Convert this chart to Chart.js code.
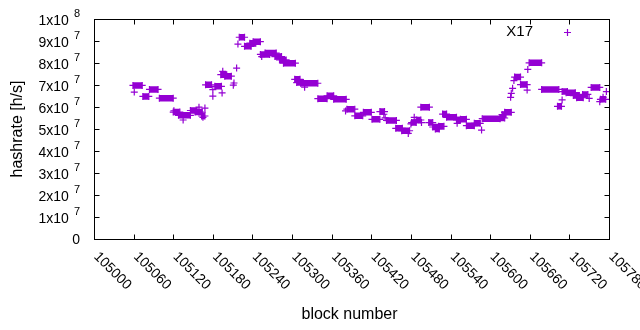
<!DOCTYPE html>
<html>
<head>
<meta charset="utf-8">
<script src="https://cdn.jsdelivr.net/npm/chart.js@4"></script>
<style>
  html, body { margin: 0; padding: 0; background: #fff; }
  #wrap { width: 640px; height: 330px; }
</style>
</head>
<body>
<div id="wrap"><canvas id="chart" width="640" height="330"></canvas></div>
<script>
// ─── Data ───
// runs of blocks with the same hashrate estimate
const runStart = [105059,105074,105084,105099,105120,105128,105146,105153,105163,105169,105183,105192,105198,
    105220,105228,105236,105241,105252,105259,105274,105281,105287,105304,105307,105313,105339,105353,105363,
    105383,105395,105408,105421,105433,105443,105457,105466,105481,105488,105495,105507,105513,105517,105522,
    105528,105534,105549,105555,105564,105576,105588,105615,105618,105622,105637,105646,105659,105678,105702,
    105709,105715,105726,105731,105740,105753,105767];
const runEnd = [105073,105083,105097,105120,105130,105146,105156,105164,105168,105178,105193,105201,105208,
    105228,105238,105245,105252,105266,105276,105284,105291,105305,105312,105317,105339,105353,105363,105382,
    105395,105407,105420,105433,105440,105458,105467,105478,105488,105495,105508,105513,105522,105523,105530,
    105534,105549,105555,105564,105576,105585,105615,105622,105624,105632,105646,105656,105678,105704,105708,
    105717,105729,105735,105741,105748,105766,105775];
const runRate = [69.8e6,64.8e6,68.0e6,64.0e6,57.7e6,56.2e6,58.4e6,57.7e6,55.9e6,70.1e6,69.4e6,74.7e6,74.0e6,
    91.7e6,87.6e6,89.0e6,89.7e6,83.9e6,84.5e6,82.9e6,81.4e6,79.9e6,72.6e6,71.1e6,70.8e6,63.8e6,65.1e6,63.5e6,
    59.0e6,56.0e6,57.6e6,54.4e6,57.9e6,53.9e6,50.3e6,49.2e6,52.9e6,54.1e6,59.9e6,52.9e6,50.9e6,50.0e6,51.2e6,
    56.8e6,55.3e6,54.1e6,54.4e6,51.5e6,52.6e6,54.7e6,55.0e6,56.6e6,57.6e6,73.6e6,70.2e6,80.1e6,68.0e6,60.3e6,
    67.0e6,66.5e6,65.2e6,64.2e6,65.7e6,68.9e6,63.5e6];

// isolated blocks
const singleBlock = [105061,105121,105135,105159,105168,105165,105180,105180,105194,105195,105216,105212,105211,
    105218,105254,105319,105381,105439,105441,105476,105480,105485,105496,105550,105587,105631,105632,105634,
    105636,105656,105657,105709,105750,105766,105771,105776];
const singleRate = [66.8e6,58.3e6,54.1e6,59.9e6,59.5e6,55.3e6,67.9e6,64.9e6,66.4e6,76.2e6,77.7e6,70.9e6,69.9e6,
    88.6e6,82.9e6,69.0e6,58.2e6,56.7e6,55.1e6,48.0e6,52.3e6,55.3e6,52.9e6,52.6e6,49.5e6,64.4e6,66.2e6,68.5e6,
    72.0e6,67.7e6,77.1e6,63.2e6,63.9e6,62.4e6,64.4e6,67.0e6];

const xTicks = [105000,105060,105120,105180,105240,105300,105360,105420,105480,105540,105600,105660,105720,105780];
const yTicks = [0,1e7,2e7,3e7,4e7,5e7,6e7,7e7,8e7,9e7,1e8];
const yTickMant = ['0','1','2','3','4','5','6','7','8','9','1'];
const yTickExp = ['','7','7','7','7','7','7','7','7','7','8'];

const seriesName = 'X17';
const PURPLE = '#9400d3';
const FONT = "'Liberation Sans', Arial, sans-serif";

// ─── Build datasets ───
const runPoints = [];
runStart.forEach((s, i) => {
    runPoints.push({ x: s, y: runRate[i] }, { x: runEnd[i], y: runRate[i] }, { x: runEnd[i], y: null });
});
const singlePoints = singleBlock.map((b, i) => ({ x: b, y: singleRate[i] }));

// ─── Gnuplot-ish frame, ticks and labels ───
const gnuFrame = {
    id: 'gnuFrame',
    afterDraw(chart) {
        const { ctx, chartArea: a, scales: { x, y } } = chart;
        const L = Math.round(a.left) + 0.5, R = Math.round(a.right) + 0.5;
        const T = Math.round(a.top) + 0.5, B = Math.round(a.bottom) + 0.5;
        ctx.save();
        ctx.strokeStyle = '#000';
        ctx.lineWidth = 1;
        ctx.strokeRect(L, T, R - L, B - T);

        // ticks (inward, mirrored)
        ctx.beginPath();
        yTicks.forEach(v => {
            const py = Math.round(y.getPixelForValue(v)) + 0.5;
            ctx.moveTo(L, py); ctx.lineTo(L + 5, py);
            ctx.moveTo(R, py); ctx.lineTo(R - 5, py);
        });
        xTicks.forEach(v => {
            const px = Math.round(x.getPixelForValue(v)) + 0.5;
            ctx.moveTo(px, B); ctx.lineTo(px, B - 5);
            ctx.moveTo(px, T); ctx.lineTo(px, T + 5);
        });
        ctx.stroke();

        ctx.fillStyle = '#000';
        // y tick labels: mantissa x10 ^ exponent
        yTicks.forEach((v, i) => {
            const py = y.getPixelForValue(v);
            const right = 80;
            if (!yTickExp[i]) {
                ctx.font = '14px ' + FONT;
                ctx.textAlign = 'right';
                ctx.textBaseline = 'middle';
                ctx.fillText(yTickMant[i], right, py + 1);
                return;
            }
            const base = yTickMant[i] + 'x10';
            ctx.font = '11px ' + FONT;
            const supW = ctx.measureText(yTickExp[i]).width;
            ctx.font = '14px ' + FONT;
            const baseW = ctx.measureText(base).width;
            const gap = 5;
            const x0 = right - supW - gap - baseW;
            ctx.textAlign = 'left';
            ctx.textBaseline = 'middle';
            ctx.fillText(base, x0, py + 2);
            ctx.font = '11px ' + FONT;
            ctx.fillText(yTickExp[i], x0 + baseW + gap, py - 5);
        });

        // x tick labels rotated by -45 (gnuplot sense)
        ctx.font = '14px ' + FONT;
        ctx.textAlign = 'left';
        ctx.textBaseline = 'middle';
        xTicks.forEach(v => {
            const px = x.getPixelForValue(v);
            ctx.save();
            ctx.translate(px + 2, B + 15);
            ctx.rotate(Math.PI / 4);
            ctx.fillText(String(v), 0, 0);
            ctx.restore();
        });

        // axis titles
        ctx.font = '16px ' + FONT;
        ctx.textAlign = 'center';
        ctx.textBaseline = 'middle';
        ctx.fillText('block number', (a.left + a.right) / 2 - 2, 315);
        ctx.save();
        ctx.translate(18, (a.top + a.bottom) / 2);
        ctx.rotate(-Math.PI / 2);
        ctx.fillText('hashrate [h/s]', 0, 0);
        ctx.restore();

        // key
        ctx.font = '15px ' + FONT;
        ctx.textAlign = 'right';
        ctx.fillText(seriesName, 533, 32);
        ctx.strokeStyle = PURPLE;
        ctx.lineWidth = 1.2;
        ctx.beginPath();
        ctx.moveTo(567.5 - 3.5, 32.5); ctx.lineTo(567.5 + 3.5, 32.5);
        ctx.moveTo(567.5, 32.5 - 3.5); ctx.lineTo(567.5, 32.5 + 3.5);
        ctx.stroke();
        ctx.restore();
    }
};

new Chart(document.getElementById('chart'), {
    type: 'scatter',
    data: {
        datasets: [
            {
                label: seriesName,
                data: runPoints,
                showLine: true,
                spanGaps: false,
                borderColor: PURPLE,
                backgroundColor: PURPLE,
                borderWidth: 6.5,
                borderCapStyle: 'butt',
                tension: 0,
                pointStyle: 'cross',
                pointRadius: 3.5,
                pointBorderWidth: 1.2,
                pointBorderColor: PURPLE,
            },
            {
                label: seriesName,
                data: singlePoints,
                showLine: false,
                borderColor: PURPLE,
                backgroundColor: PURPLE,
                pointStyle: 'cross',
                pointRadius: 3.5,
                pointBorderWidth: 1.2,
            }
        ]
    },
    options: {
        responsive: false,
        animation: false,
        devicePixelRatio: 1,
        layout: { padding: { left: 94, right: 31, top: 19, bottom: 91 } },
        plugins: { legend: { display: false }, tooltip: { enabled: false } },
        scales: {
            x: { type: 'linear', min: 105000, max: 105780, display: false },
            y: { type: 'linear', min: 0, max: 1e8, display: false }
        }
    },
    plugins: [gnuFrame]
});
</script>
</body>
</html>
